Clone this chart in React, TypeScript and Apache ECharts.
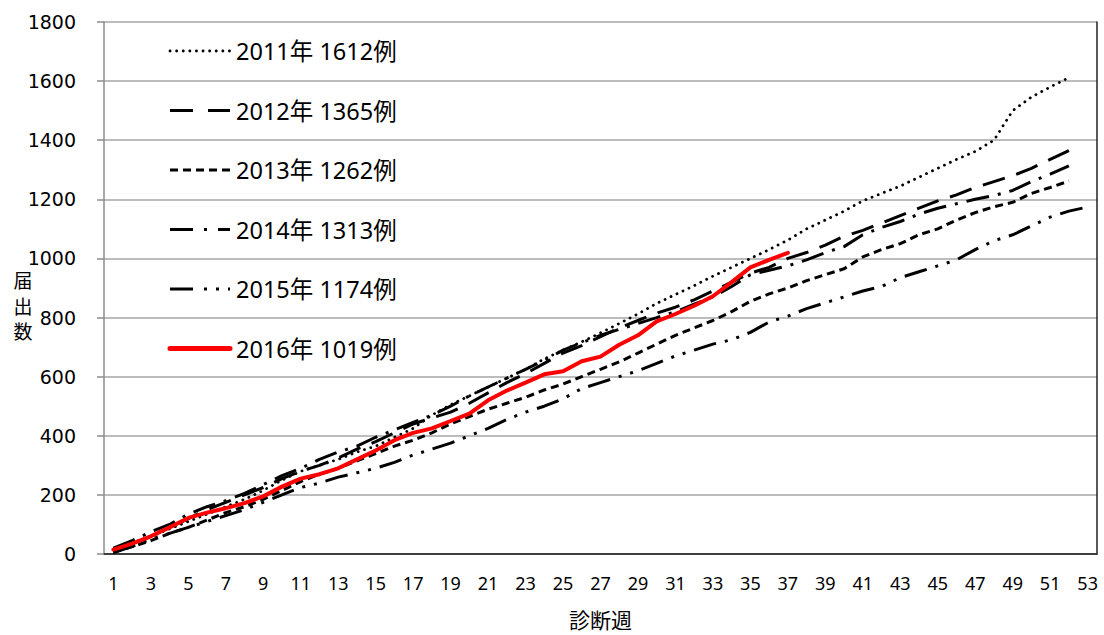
import React, { useEffect, useRef } from "react";
import * as echarts from "echarts";

const weeks = ["1","2","3","4","5","6","7","8","9","10","11","12","13","14","15","16","17","18","19","20","21","22","23","24","25","26","27","28","29","30","31","32","33","34","35","36","37","38","39","40","41","42","43","44","45","46","47","48","49","50","51","52","53"];

const y2011 = [15,38,60,85,110,135,160,185,215,250,280,300,320,345,365,395,425,470,505,535,565,595,625,660,690,718,748,780,812,848,878,908,940,970,1000,1030,1062,1100,1130,1160,1195,1220,1245,1275,1305,1335,1362,1400,1500,1546,1580,1612];
const y2012 = [10,35,60,90,120,150,175,200,225,255,280,300,325,355,380,410,440,460,480,510,545,580,610,645,680,705,735,765,790,815,835,860,890,920,950,970,1000,1020,1045,1075,1095,1120,1145,1170,1195,1215,1240,1260,1280,1305,1335,1365];
const y2013 = [5,25,45,70,90,115,140,160,185,215,245,270,290,315,340,365,385,410,440,465,490,510,530,555,575,600,625,650,680,710,740,765,790,820,855,880,900,925,945,965,1005,1030,1050,1080,1100,1130,1155,1175,1190,1220,1240,1262];
const y2014 = [20,45,75,100,135,160,180,205,235,265,290,320,345,365,395,420,445,470,500,535,565,595,625,655,690,715,740,760,780,800,820,845,870,905,945,960,975,995,1020,1040,1080,1105,1125,1150,1170,1185,1200,1213,1230,1260,1285,1313];
const y2015 = [5,25,50,70,90,110,130,150,175,200,225,240,260,275,290,310,335,355,375,400,425,455,480,500,525,560,580,600,620,645,670,690,710,725,750,785,805,830,850,870,890,905,935,955,975,995,1030,1060,1080,1110,1140,1160,1174];
const y2016 = [15,35,60,90,122,140,155,172,195,228,255,270,290,320,350,385,410,425,450,475,520,553,580,608,618,652,668,708,740,787,812,840,872,920,970,995,1019];

const seriesNames = ["2011年 1612例", "2012年 1365例", "2013年 1262例", "2014年 1313例", "2015年 1174例", "2016年 1019例"];
const seriesData = [y2011, y2012, y2013, y2014, y2015, y2016];
const yAxisTitleChars = ["届", "出", "数"];
const xAxisTitle = "診断週";

const FONT = "'Noto Sans', 'Noto Sans CJK JP', sans-serif";

const lineStyles: any[] = [
  { color: "#000", width: 2.8, dash: [0.1, 6.5], cap: "round" },
  { color: "#000", width: 3, dash: [23, 12], cap: "butt" },
  { color: "#000", width: 3, dash: [8, 5], cap: "butt" },
  { color: "#000", width: 3, dash: [23, 9, 3, 9], cap: "butt" },
  { color: "#000", width: 3, dash: [23, 9, 3, 9, 3, 9], cap: "butt" },
  { color: "#ff0000", width: 4, dash: null, cap: "round" },
];
const legendDash: any[] = [[0.1, 6.5], [23, 15], [8, 5], [23, 11, 3, 11], [23, 11, 3, 9, 3, 9], null];

const legendRows = [51, 110.5, 170, 229.5, 289, 348.5];
const yTitleRows = [281, 306.5, 332];

export default function App() {
  const ref = useRef<HTMLDivElement>(null);
  useEffect(() => {
    if (!ref.current) return;
    const chart = echarts.init(ref.current, undefined, { renderer: "svg" });

    const graphic: any[] = [];
    seriesNames.forEach((name, i) => {
      const ls = lineStyles[i];
      const y = legendRows[i];
      graphic.push({
        type: "line",
        shape: { x1: 170, y1: y, x2: 230, y2: y },
        style: {
          stroke: ls.color,
          lineWidth: i === 5 ? 5 : ls.width,
          lineDash: legendDash[i] || undefined,
          lineCap: ls.cap,
        },
        z: 10,
      });
      graphic.push({
        type: "text",
        x: 236,
        y,
        style: {
          text: name,
          fontSize: 23.5,
          fontFamily: FONT,
          fill: "#000",
          align: "left",
          verticalAlign: "middle",
        },
        z: 10,
      });
    });
    yAxisTitleChars.forEach((ch, i) => {
      graphic.push({
        type: "text",
        x: 23,
        y: yTitleRows[i],
        style: {
          text: ch,
          fontSize: 19,
          lineHeight: 20,
          fontFamily: FONT,
          fill: "#000",
          align: "center",
          verticalAlign: "middle",
        },
        z: 10,
      });
    });

    chart.setOption({
      animation: false,
      backgroundColor: "#ffffff",
      grid: { left: 104, right: 7, top: 22, bottom: 77, containLabel: false },
      graphic,
      xAxis: [
        {
          type: "category",
          data: weeks,
          boundaryGap: true,
          axisLine: { lineStyle: { color: "#8c8c8c", width: 1.5 } },
          axisTick: { show: false },
          axisLabel: { interval: 1, color: "#000", fontFamily: FONT, fontSize: 18, margin: 20 },
          name: xAxisTitle,
          nameLocation: "middle",
          nameGap: 55,
          nameTextStyle: { fontFamily: FONT, fontSize: 21, color: "#000" },
        },
        {
          type: "category",
          data: weeks,
          position: "top",
          boundaryGap: true,
          axisLine: { lineStyle: { color: "#222", width: 1.5 } },
          axisTick: { show: false },
          axisLabel: { show: false },
        },
      ],
      yAxis: [
        {
          type: "value",
          min: 0,
          max: 1800,
          interval: 200,
          axisLine: { show: true, lineStyle: { color: "#8c8c8c", width: 1.5 } },
          axisTick: { show: true, length: 7, lineStyle: { color: "#8c8c8c", width: 1.5 } },
          axisLabel: {
            color: "#000",
            fontFamily: "'DejaVu Sans', sans-serif",
            fontSize: 19,
            margin: 28,
            formatter: (v: number) => String(v),
          },
          splitLine: { lineStyle: { color: "#a6a6a6", width: 1.5 } },
        },
        {
          type: "value",
          min: 0,
          max: 1800,
          interval: 200,
          position: "right",
          axisLine: { show: true, lineStyle: { color: "#222", width: 1.5 } },
          axisTick: { show: false },
          axisLabel: { show: false },
          splitLine: { show: false },
        },
      ],
      series: seriesNames.map((name, i) => ({
        name,
        type: "line",
        data: seriesData[i],
        symbol: "none",
        showSymbol: false,
        lineStyle: {
          color: lineStyles[i].color,
          width: lineStyles[i].width,
          type: lineStyles[i].dash || "solid",
          cap: lineStyles[i].cap,
        },
        itemStyle: { color: lineStyles[i].color },
        z: 3,
      })),
    });
    return () => chart.dispose();
  }, []);
  return <div ref={ref} style={{ position: "fixed", left: 0, top: 0, width: 1104, height: 635 }} />;
}
